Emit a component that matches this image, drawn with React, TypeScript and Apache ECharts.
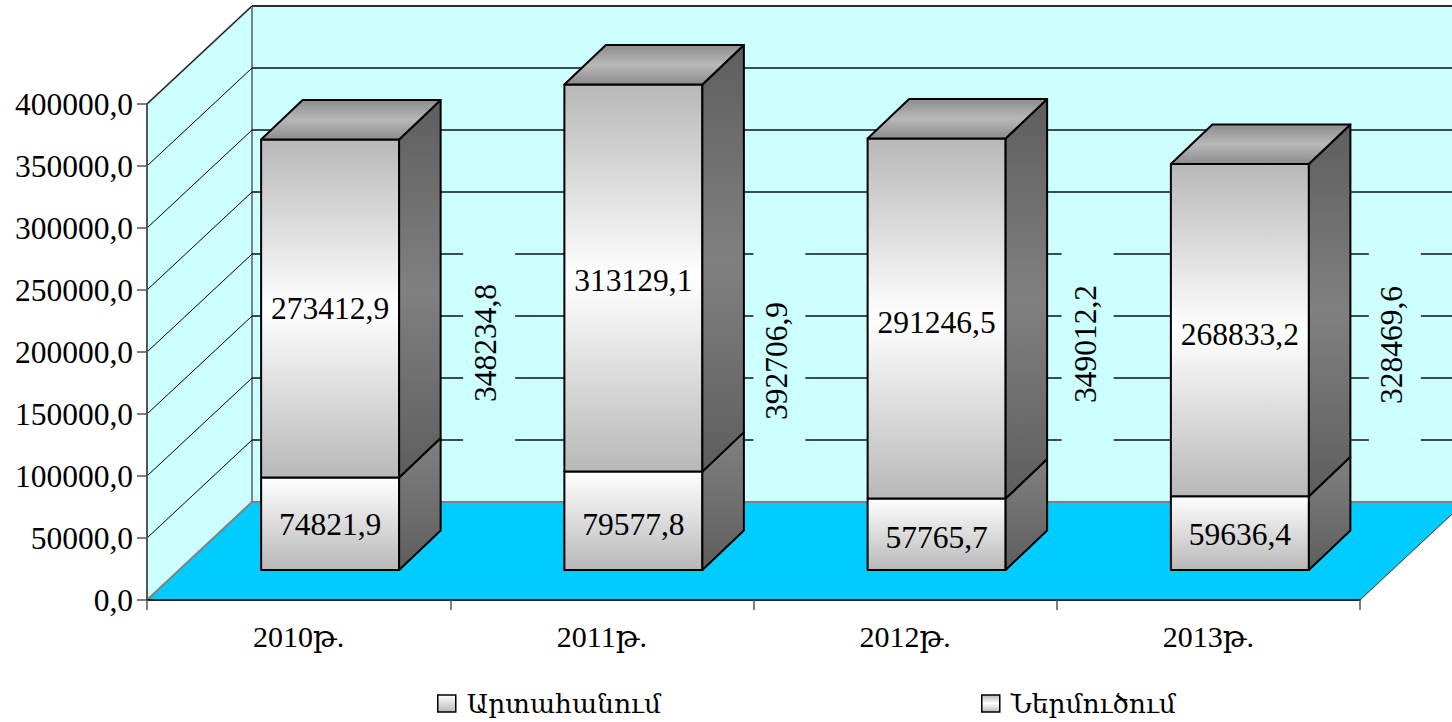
import React, { useEffect, useRef } from "react";
import * as echarts from "echarts";

const categories = ["2010թ.", "2011թ.", "2012թ.", "2013թ."];
const exportsValues = [74821.9, 79577.8, 57765.7, 59636.4];
const importsValues = [273412.9, 313129.1, 291246.5, 268833.2];
const totalValues = [348234.8, 392706.9, 349012.2, 328469.6];
const gridValues = [50000, 100000, 150000, 200000, 250000, 300000, 350000, 400000];
const seriesNames = ["Արտահանում", "Ներմուծում"];

// layout of the drawing, not data
const FONT = '"Liberation Serif", "DejaVu Serif", serif';
const FONT_SIZE = 31.5;
const WALL = { dx: 105, dy: -98 };
const BAR_SHIFT = { dx: 31.5, dy: -30 };
const BAR_DEPTH = { dx: 41.5, dy: -39.5 };
const BAR_WIDTH = 138;
const BAR_SCALE = 0.997;
const totalLabelX = [155, 143.5, 149, 152];
const totalLabelY = [343, 361, 344, 345];
const totalMaskX = [159, 146, 151, 155];
const topLabelShift = [0, 2, 4, 4];
const bottomLabelShift = [1, 4, 3, 1];

const numberText = (v: number) => v.toFixed(1).replace(".", ",");

const grad = (stops: [number, string][]) =>
  new echarts.graphic.LinearGradient(0, 0, 0, 1, stops.map(([offset, color]) => ({ offset, color })));

const frontBottom = () => grad([[0, "#ffffff"], [1, "#b8b8b8"]]);
const frontTop = () => grad([[0, "#b8b8b8"], [0.5, "#ffffff"], [1, "#b8b8b8"]]);
const sideBottom = () => grad([[0, "#808080"], [1, "#5e5e5e"]]);
const sideTop = () => grad([[0, "#5e5e5e"], [0.5, "#808080"], [1, "#5e5e5e"]]);
const topFace = () => grad([[0, "#8c8c8c"], [0.5, "#b8b8b8"], [1, "#8c8c8c"]]);

const wallItem = (params: any) => {
  const c = params.coordSys;
  const x0 = c.x, x1 = c.x + c.width, y0 = c.y, y1 = c.y + c.height;
  const bl = [x0 + WALL.dx, y1 + WALL.dy], tl = [x0 + WALL.dx, y0 + WALL.dy];
  const br = [x1 + WALL.dx, y1 + WALL.dy], tr = [x1 + WALL.dx, y0 + WALL.dy];
  const poly = (points: number[][], fill: string) => ({
    type: "polygon", shape: { points }, style: { fill, stroke: "none" },
  });
  const line = (a: number[], b: number[], stroke: string, lineWidth: number) => ({
    type: "line", shape: { x1: a[0], y1: a[1], x2: b[0], y2: b[1] }, style: { stroke, lineWidth },
  });
  return {
    type: "group",
    children: [
      poly([[x0, y1], bl, tl, [x0, y0]], "#ccffff"),
      poly([bl, tl, tr, br], "#ccffff"),
      poly([[x0, y1], bl, br, [x1, y1]], "#00ccff"),
      line(bl, tl, "#808080", 2),
      line(tl, tr, "#808080", 2),
      line([x0, y0], tl, "#808080", 2),
      line(bl, br, "#808080", 2),
      line([x0, y1], bl, "#808080", 2),
      line([x1, y1], br, "#333333", 1),
    ],
  };
};

const gridItem = (params: any, api: any) => {
  const c = params.coordSys;
  const y = api.coord([0, api.value(0)])[1];
  const front = [c.x, y];
  const back = [c.x + WALL.dx, y + WALL.dy];
  const end = [c.x + c.width + WALL.dx, y + WALL.dy];
  return {
    type: "group",
    children: [
      { type: "line", shape: { x1: front[0], y1: front[1], x2: back[0], y2: back[1] }, style: { stroke: "#000", lineWidth: 1 } },
      { type: "line", shape: { x1: back[0], y1: back[1], x2: end[0], y2: end[1] }, style: { stroke: "#111", lineWidth: 1.5 } },
    ],
  };
};

const barItem = (isTop: boolean) => (_params: any, api: any) => {
  const i = api.value(0);
  const zero = api.coord([i, 0]);
  const base = api.coord([i, api.value(1)]);
  const head = api.coord([i, api.value(2)]);
  const xl = base[0] + BAR_SHIFT.dx - BAR_WIDTH / 2;
  const xr = xl + BAR_WIDTH;
  const yb = zero[1] + BAR_SHIFT.dy + (base[1] - zero[1]) * BAR_SCALE;
  const yt = zero[1] + BAR_SHIFT.dy + (head[1] - zero[1]) * BAR_SCALE;
  const { dx, dy } = BAR_DEPTH;
  const edge = { stroke: "#000", lineWidth: 2, lineJoin: "round" };
  const children: any[] = [
    { type: "polygon", shape: { points: [[xl, yt], [xr, yt], [xr, yb], [xl, yb]] }, style: { fill: isTop ? frontTop() : frontBottom(), ...edge } },
    { type: "polygon", shape: { points: [[xr, yt], [xr + dx, yt + dy], [xr + dx, yb + dy], [xr, yb]] }, style: { fill: isTop ? sideTop() : sideBottom(), ...edge } },
  ];
  if (isTop) {
    children.push({
      type: "polygon",
      shape: { points: [[xl, yt], [xl + dx, yt + dy], [xr + dx, yt + dy], [xr, yt]] },
      style: { fill: topFace(), ...edge },
    });
  }
  const shift = isTop ? topLabelShift[i] : bottomLabelShift[i];
  children.push({
    type: "text",
    style: {
      x: (xl + xr) / 2, y: (yt + yb) / 2 + shift, text: numberText(api.value(2) - api.value(1)),
      align: "center", verticalAlign: "middle", font: `${FONT_SIZE}px ${FONT}`, fill: "#000",
    },
  });
  return { type: "group", children };
};

const totalItem = (_params: any, api: any) => {
  const i = api.value(0);
  const cx = api.coord([i, 0])[0] + BAR_SHIFT.dx;
  const y = totalLabelY[i];
  return {
    type: "group",
    children: [
      { type: "rect", shape: { x: cx + totalMaskX[i] - 26, y: 246, width: 52, height: 200 }, style: { fill: "#ccffff" } },
      {
        type: "text",
        x: cx + totalLabelX[i],
        y,
        rotation: Math.PI / 2,
        style: {
          x: 0, y: 0, text: numberText(api.value(1)), align: "center", verticalAlign: "middle",
          font: `${FONT_SIZE}px ${FONT}`, fill: "#000",
        },
      },
    ],
  };
};

export default function App() {
  const ref = useRef<HTMLDivElement>(null);
  useEffect(() => {
    const chart = echarts.init(ref.current!, undefined, { renderer: "svg" });
    const legendBase = {
      orient: "horizontal", icon: "rect", itemWidth: 18, itemHeight: 17, itemGap: 0,
      selectedMode: false, padding: 0,
      textStyle: { fontFamily: FONT, fontSize: 26.5, color: "#000", padding: [0, 0, 0, 6] },
    };
    const legendStyle = (stops: [number, string][]) => ({
      color: grad(stops), borderColor: "#000", borderWidth: 1.5,
    });
    const bottomData = exportsValues.map((v, i) => [i, 0, v]);
    const topData = importsValues.map((v, i) => [i, exportsValues[i], exportsValues[i] + v]);
    chart.setOption({
      animation: false,
      backgroundColor: "#ffffff",
      textStyle: { fontFamily: FONT },
      grid: { left: 147, right: 92, top: 104, bottom: 122, containLabel: false },
      xAxis: {
        type: "category", data: categories, z: 10,
        axisLine: { lineStyle: { color: "#222", width: 2 } },
        axisTick: { show: true, alignWithLabel: false, length: 10, lineStyle: { color: "#555", width: 1.5 } },
        axisLabel: { fontFamily: FONT, fontSize: 30, color: "#000", margin: 21, interval: 0 },
      },
      yAxis: {
        type: "value", min: 0, max: 400000, interval: 50000, z: 10,
        axisLine: { show: true, lineStyle: { color: "#555", width: 2 } },
        axisTick: { show: true, length: 10, lineStyle: { color: "#555", width: 1.5 } },
        axisLabel: { fontFamily: FONT, fontSize: FONT_SIZE, color: "#000", margin: 14, padding: [5, 0, 0, 0], formatter: (v: number) => numberText(v) },
        splitLine: { show: false },
      },
      legend: [
        { ...legendBase, data: [seriesNames[0]], left: 437, top: 690, itemStyle: legendStyle([[0, "#ffffff"], [1, "#b8b8b8"]]) },
        { ...legendBase, data: [seriesNames[1]], left: 981, top: 690, itemStyle: legendStyle([[0, "#b8b8b8"], [0.5, "#ffffff"], [1, "#b8b8b8"]]) },
      ],
      series: [
        { type: "custom", silent: true, renderItem: wallItem, data: [[0]], encode: { y: -1, x: -1 }, z: 1, clip: false },
        { type: "custom", silent: true, renderItem: gridItem, data: gridValues.map((v) => [v]), encode: { y: 0, x: -1 }, z: 2, clip: false },
        { type: "custom", silent: true, renderItem: totalItem, data: totalValues.map((v, i) => [i, v]), encode: { x: 0, y: 1 }, z: 3, clip: false },
        { type: "custom", name: seriesNames[0], silent: true, renderItem: barItem(false), data: bottomData, encode: { x: 0, y: 2 }, z: 4, clip: false },
        { type: "custom", name: seriesNames[1], silent: true, renderItem: barItem(true), data: topData, encode: { x: 0, y: 2 }, z: 5, clip: false },
      ],
    });
    return () => chart.dispose();
  }, []);
  return <div ref={ref} style={{ position: "fixed", left: 0, top: 0, width: 1452, height: 722 }} />;
}
